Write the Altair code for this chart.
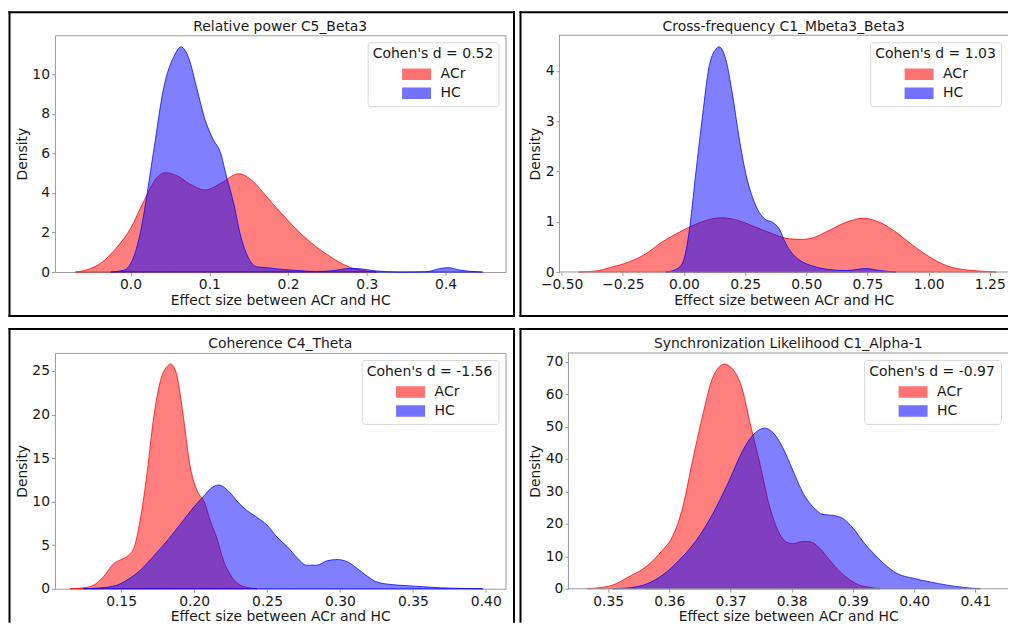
import altair as alt
import pandas as pd

FONT = "DejaVu Sans"
GROUPS = ["ACr", "HC"]
COLORS = ["#ff0000", "#0000ff"]
XTITLE = "Effect size between ACr and HC"
YTITLE = "Density"
FRAME = "#9a9a9a"

# ---------------- Panel 1 ----------------
p1_title = "Relative power C5_Beta3"
p1_legend = "Cohen's d = 0.52"
p1_acr_x = [-0.070, -0.055, -0.038, -0.017, 0.0, 0.017, 0.034, 0.044, 0.060, 0.075, 0.095,
            0.115, 0.137, 0.155, 0.173, 0.200, 0.220, 0.236, 0.257, 0.278, 0.300, 0.312]
p1_acr_y = [0.0, 0.12, 0.44, 1.27, 2.2, 3.6, 4.8, 5.02, 4.85, 4.45, 4.15,
            4.5, 4.97, 4.6, 3.8, 2.6, 1.8, 1.27, 0.69, 0.25, 0.05, 0.0]
p1_hc_x = [-0.025, -0.008, 0.004, 0.013, 0.021, 0.030, 0.042, 0.055, 0.064, 0.074, 0.084,
           0.095, 0.105, 0.114, 0.122, 0.131, 0.139, 0.150, 0.160, 0.173, 0.194, 0.215,
           0.236, 0.257, 0.278, 0.291, 0.308, 0.342, 0.376, 0.392, 0.403, 0.418, 0.447]
p1_hc_y = [0.0, 0.1, 0.77, 2.1, 3.96, 6.3, 9.3, 10.9, 11.38, 10.8, 9.3,
           7.65, 6.7, 6.05, 4.8, 3.46, 1.95, 0.69, 0.27, 0.22, 0.13, 0.07,
           0.03, 0.07, 0.18, 0.17, 0.07, 0.0, 0.02, 0.17, 0.22, 0.1, 0.0]
p1_xdom = [-0.096, 0.476]
p1_ydom = [0, 11.97]
p1_xticks = [0.0, 0.1, 0.2, 0.3, 0.4]
p1_yticks = [0, 2, 4, 6, 8, 10]

# ---------------- Panel 2 ----------------
p2_title = "Cross-frequency C1_Mbeta3_Beta3"
p2_legend = "Cohen's d = 1.03"
p2_acr_x = [-0.43, -0.362, -0.294, -0.225, -0.157, -0.089, -0.02, 0.048, 0.116, 0.157, 0.225,
            0.294, 0.362, 0.43, 0.485, 0.526, 0.594, 0.663, 0.731, 0.80, 0.867, 0.936,
            1.004, 1.072, 1.14, 1.209, 1.277]
p2_acr_y = [0.0, 0.02, 0.1, 0.2, 0.36, 0.6, 0.79, 0.95, 1.06, 1.08, 1.02,
            0.89, 0.76, 0.66, 0.65, 0.68, 0.83, 0.99, 1.07, 0.99, 0.79, 0.53,
            0.3, 0.13, 0.05, 0.02, 0.0]
p2_hc_x = [-0.075, -0.034, -0.007, 0.02, 0.048, 0.075, 0.102, 0.13, 0.143, 0.171, 0.198,
           0.225, 0.253, 0.28, 0.307, 0.335, 0.362, 0.389, 0.417, 0.444, 0.485, 0.526,
           0.594, 0.663, 0.745, 0.80, 0.867]
p2_hc_y = [0.0, 0.05, 0.17, 0.76, 1.95, 3.07, 4.07, 4.43, 4.48, 4.23, 3.54,
           2.68, 1.95, 1.49, 1.19, 1.04, 0.99, 0.86, 0.56, 0.36, 0.2, 0.12,
           0.05, 0.03, 0.07, 0.03, 0.0]
p2_xdom = [-0.509, 1.3244]
p2_ydom = [0, 4.71]
p2_xticks = [-0.5, -0.25, 0.0, 0.25, 0.5, 0.75, 1.0, 1.25]
p2_yticks = [0, 1, 2, 3, 4]

# ---------------- Panel 3 ----------------
p3_title = "Coherence C4_Theta"
p3_legend = "Cohen's d = -1.56"
p3_acr_x = [0.115, 0.124, 0.131, 0.138, 0.145, 0.150, 0.155, 0.159, 0.163, 0.168, 0.172,
            0.177, 0.182, 0.184, 0.188, 0.193, 0.197, 0.202, 0.207, 0.211, 0.216, 0.220,
            0.225, 0.230, 0.236, 0.243]
p3_acr_y = [0.0, 0.1, 0.4, 1.4, 2.9, 3.35, 3.85, 4.8, 7.85, 13.6, 19.3,
            23.9, 25.6, 25.8, 24.6, 19.3, 14.3, 11.3, 9.95, 7.85, 5.6, 3.3,
            1.56, 0.6, 0.15, 0.0]
p3_hc_x = [0.124, 0.136, 0.147, 0.154, 0.163, 0.172, 0.182, 0.191, 0.200, 0.207, 0.213,
           0.217, 0.223, 0.230, 0.236, 0.243, 0.250, 0.257, 0.264, 0.271, 0.277, 0.284,
           0.291, 0.298, 0.305, 0.312, 0.319, 0.325, 0.334, 0.346, 0.357, 0.369, 0.382, 0.398]
p3_hc_y = [0.0, 0.1, 0.4, 1.0, 2.1, 3.7, 5.6, 7.5, 9.4, 10.7, 11.7,
           11.9, 11.3, 9.95, 9.0, 8.2, 7.3, 5.9, 4.8, 3.5, 2.7, 2.7,
           3.2, 3.35, 3.1, 2.3, 1.4, 0.8, 0.5, 0.35, 0.23, 0.1, 0.04, 0.0]
p3_xdom = [0.1046, 0.4135]
p3_ydom = [0, 27.06]
p3_xticks = [0.15, 0.20, 0.25, 0.30, 0.35, 0.40]
p3_yticks = [0, 5, 10, 15, 20, 25]

# ---------------- Panel 4 ----------------
p4_title = "Synchronization Likelihood C1_Alpha-1"
p4_legend = "Cohen's d = -0.97"
p4_acr_x = [0.3466, 0.3485, 0.3507, 0.3534, 0.3562, 0.3589, 0.3605, 0.3622, 0.3638, 0.3655,
            0.3671, 0.3690, 0.3704, 0.3720, 0.3731, 0.3748, 0.3764, 0.3780, 0.3791, 0.3802,
            0.3819, 0.3830, 0.3846, 0.3862, 0.3879, 0.3895, 0.3911, 0.3928, 0.3944]
p4_acr_y = [0.0, 0.3, 1.1, 3.7, 6.8, 11.9, 16.0, 25.2, 39.5, 53.8,
            65.1, 69.2, 67.6, 61.0, 51.8, 38.5, 25.2, 17.0, 14.4, 13.9,
            14.6, 14.5, 12.4, 8.8, 5.2, 2.7, 1.1, 0.4, 0.0]
p4_hc_x = [0.3507, 0.3534, 0.3562, 0.3589, 0.3616, 0.3644, 0.3671, 0.3698, 0.3720, 0.3736,
           0.3756, 0.3769, 0.3785, 0.3802, 0.3819, 0.3835, 0.3851, 0.3868, 0.3884, 0.3901,
           0.3917, 0.3934, 0.3950, 0.3972, 0.3999, 0.4026, 0.4054, 0.4081, 0.4108]
p4_hc_y = [0.0, 0.3, 1.4, 4.2, 8.8, 14.9, 23.1, 33.4, 42.6, 47.2,
           49.5, 48.2, 43.6, 36.4, 29.3, 25.2, 22.9, 22.6, 21.6, 18.5,
           14.4, 10.8, 7.8, 4.7, 3.2, 2.1, 1.1, 0.4, 0.0]
p4_xdom = [0.34352, 0.41533]
p4_ydom = [0, 72.67]
p4_xticks = [0.35, 0.36, 0.37, 0.38, 0.39, 0.40, 0.41]
p4_yticks = [0, 10, 20, 30, 40, 50, 60, 70]


def build_df(acr_x, acr_y, hc_x, hc_y):
    rows = [{"group": "ACr", "x": a, "y": b} for a, b in zip(acr_x, acr_y)]
    rows += [{"group": "HC", "x": a, "y": b} for a, b in zip(hc_x, hc_y)]
    return pd.DataFrame(rows)


def edge(x1, x2, y1, y2, color="black"):
    # thin filled rectangle used as a frame line
    return alt.Chart(alt.Data(values=[{}])).mark_rect(color=color, strokeWidth=0).encode(
        x=alt.value(x1), x2=alt.value(x2), y=alt.value(y1), y2=alt.value(y2))


def panel(title, title_y, legend_title, df, xdom, ydom, xticks, yticks, xfmt, w, h,
          ytitle_x, edges, open_right=False):
    leg = alt.Legend(
        title=legend_title, orient="top-right", offset=7,
        fillColor="white", strokeColor="#d8d8d8", cornerRadius=3, padding=5,
        titleFont=FONT, titleFontSize=14, titleFontWeight="normal", titleColor="#1a1a1a",
        labelFont=FONT, labelFontSize=14, labelColor="#1a1a1a",
        symbolType="M-2.75,-1H2.75V1H-2.75Z", symbolSize=100,
        symbolOpacity=0.55, symbolStrokeWidth=1.5,
        symbolOffset=37, labelOffset=17, rowPadding=3, titlePadding=6,
    )
    scale = alt.Scale(domain=GROUPS, range=COLORS)
    area = alt.Chart(df).mark_area(
        fillOpacity=0.5, strokeOpacity=0.75, strokeWidth=1, interpolate="monotone"
    ).encode(
        x=alt.X("x:Q", scale=alt.Scale(domain=xdom, nice=False, zero=False),
                axis=alt.Axis(values=xticks, format=xfmt, title=XTITLE,
                              titleY=28, titleBaseline="middle")),
        y=alt.Y("y:Q", stack=None, scale=alt.Scale(domain=ydom, nice=False, zero=False),
                axis=alt.Axis(values=yticks, title=YTITLE, titleX=ytitle_x,
                              titleY=h / 2, titleBaseline="middle")),
        fill=alt.Fill("group:N", scale=scale, legend=leg),
        stroke=alt.Stroke("group:N", scale=scale, legend=leg),
    )
    ttl = alt.Chart(alt.Data(values=[{}])).mark_text(
        font=FONT, fontSize=13.9, color="#1a1a1a", align="center", baseline="middle"
    ).encode(x=alt.value(w / 2), y=alt.value(title_y), text=alt.value(title))
    layers = [area, ttl] + [edge(*e) for e in edges]
    props = dict(width=w, height=h)
    if open_right:
        # plot frame continues past the picture's right edge: draw top/left/bottom only
        layers += [edge(-0.5, w, -0.5, 0.5, FRAME), edge(-0.5, w, h - 0.5, h + 0.5, FRAME),
                   edge(-0.5, 0.5, -0.5, h + 0.5, FRAME)]
        props["view"] = alt.ViewBackground(strokeOpacity=0)
    return alt.layer(*layers).properties(**props)


c1 = panel(p1_title, -8.3, p1_legend, build_df(p1_acr_x, p1_acr_y, p1_hc_x, p1_hc_y),
           p1_xdom, p1_ydom, p1_xticks, p1_yticks, ".1f", 451, 237, -32,
           [(-46.5, 460.5, -24, -22), (-46.5, 460.5, 280, 282),
            (-46.5, -44.5, -24, 282), (458.5, 460.5, -24, 282)])
c2 = panel(p2_title, -8.3, p2_legend, build_df(p2_acr_x, p2_acr_y, p2_hc_x, p2_hc_y),
           p2_xdom, p2_ydom, p2_xticks, p2_yticks, ".2f", 449, 237, -24,
           [(-40, 449, -24, -22), (-40, 449, 280, 282), (-40, -38, -24, 282)],
           open_right=True)
c3 = panel(p3_title, -9.3, p3_legend, build_df(p3_acr_x, p3_acr_y, p3_hc_x, p3_hc_y),
           p3_xdom, p3_ydom, p3_xticks, p3_yticks, ".2f", 451, 236, -32,
           [(-46.5, 460.5, -25, -23), (-46.5, -44.5, -25, 270), (458.5, 460.5, -25, 270)])
c4 = panel(p4_title, -9.3, p4_legend, build_df(p4_acr_x, p4_acr_y, p4_hc_x, p4_hc_y),
           p4_xdom, p4_ydom, p4_xticks, p4_yticks, ".2f", 440, 236, -33,
           [(-49, 440, -25, -23), (-49, -47, -25, 270)],
           open_right=True)

RES = dict(x="independent", y="independent", fill="independent", stroke="independent")
row1 = alt.hconcat(c1, c2, spacing=4).resolve_scale(**RES).resolve_legend(fill="independent", stroke="independent")
row2 = alt.hconcat(c3, c4, spacing=4).resolve_scale(**RES).resolve_legend(fill="independent", stroke="independent")

chart = alt.vconcat(row1, row2, spacing=9).resolve_scale(**RES).resolve_legend(
    fill="independent", stroke="independent"
).properties(
    padding={"left": 0, "top": 2, "right": 0, "bottom": 0},
    background="white",
).configure_view(
    stroke=FRAME, strokeWidth=1
).configure_axis(
    labelFont=FONT, titleFont=FONT, labelFontSize=13.9, titleFontSize=13.9,
    labelColor="#1a1a1a", titleColor="#1a1a1a", titleFontWeight="normal",
    tickColor=FRAME, tickSize=3.5, tickWidth=1, domain=False, grid=False,
    labelPadding=2, labelFlush=False, labelOverlap=False,
)

chart.save("out.html", embed_options={"renderer": "svg", "actions": False})
